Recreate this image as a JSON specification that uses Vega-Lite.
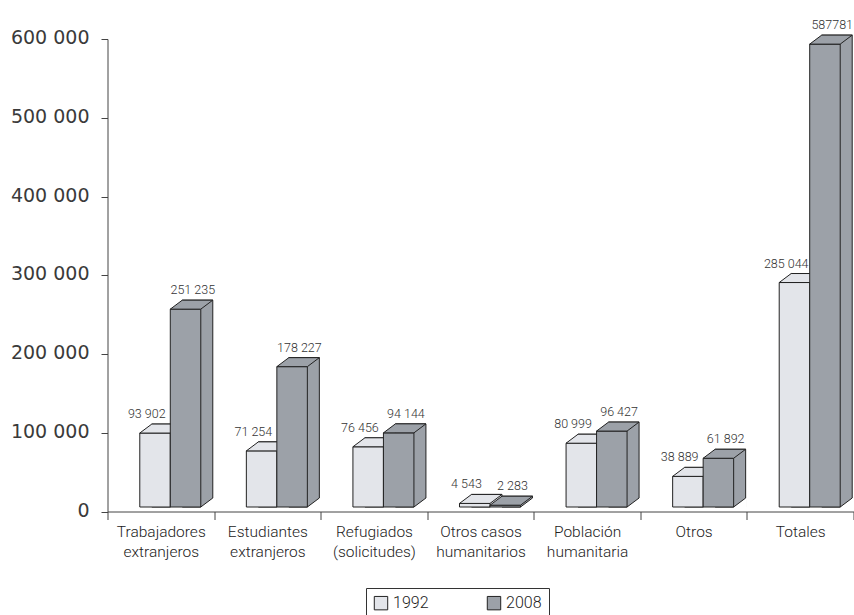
{
  "$schema": "https://vega.github.io/schema/vega-lite/v6.json",
  "width": 746,
  "height": 472.5,
  "autosize": "none",
  "padding": {"left": 107.5, "top": 39, "right": 0.5, "bottom": 103.5},
  "background": "white",
  "data": {
    "values": [
      {"cat": "Trabajadores|extranjeros", "year": "1992", "value": 93902, "label": "93 902"},
      {"cat": "Trabajadores|extranjeros", "year": "2008", "value": 251235, "label": "251 235"},
      {"cat": "Estudiantes|extranjeros", "year": "1992", "value": 71254, "label": "71 254"},
      {"cat": "Estudiantes|extranjeros", "year": "2008", "value": 178227, "label": "178 227"},
      {"cat": "Refugiados|(solicitudes)", "year": "1992", "value": 76456, "label": "76 456"},
      {"cat": "Refugiados|(solicitudes)", "year": "2008", "value": 94144, "label": "94 144"},
      {"cat": "Otros casos|humanitarios", "year": "1992", "value": 4543, "label": "4 543"},
      {"cat": "Otros casos|humanitarios", "year": "2008", "value": 2283, "label": "2 283"},
      {"cat": "Población|humanitaria", "year": "1992", "value": 80999, "label": "80 999"},
      {"cat": "Población|humanitaria", "year": "2008", "value": 96427, "label": "96 427"},
      {"cat": "Otros", "year": "1992", "value": 38889, "label": "38 889"},
      {"cat": "Otros", "year": "2008", "value": 61892, "label": "61 892"},
      {"cat": "Totales", "year": "1992", "value": 285044, "label": "285 044"},
      {"cat": "Totales", "year": "2008", "value": 587781, "label": "587781"}
    ]
  },
  "encoding": {
    "x": {
      "field": "cat", "type": "nominal", "sort": null, "title": null,
      "scale": {"paddingInner": 0, "paddingOuter": 0},
      "axis": {
        "labelExpr": "split(datum.label, '|')",
        "labelAngle": 0,
        "tickBand": "extent",
        "tickSize": 8,
        "tickColor": "#444",
        "domainColor": "#444",
        "labelFont": "Roboto",
        "labelFontWeight": 300,
        "labelFontSize": 15.5,
        "labelLineHeight": 20,
        "labelColor": "#222",
        "labelPadding": 5,
        "labelLimit": 0
      }
    },
    "y": {
      "field": "value", "type": "quantitative", "title": null,
      "scale": {"domain": [0, 600000], "nice": false},
      "axis": {
        "values": [0, 100000, 200000, 300000, 400000, 500000, 600000],
        "labelExpr": "replace(format(datum.value, ','), regexp(',', 'g'), ' ')",
        "grid": false,
        "tickSize": 6.5,
        "tickColor": "#444",
        "domainColor": "#444",
        "labelFont": "DejaVu Sans",
        "labelFontSize": 19,
        "labelColor": "#3a3a3a",
        "labelPadding": 12,
        "labelOffset": -1.5
      }
    },
    "color": {
      "field": "year", "type": "nominal",
      "scale": {"domain": ["1992", "2008"], "range": ["#e3e5ea", "#9ca1a8"]},
      "legend": {
        "orient": "none", "legendX": 258.5, "legendY": 549,
        "direction": "horizontal", "title": null,
        "strokeColor": "#333", "padding": 7,
        "symbolType": "square", "symbolSize": 180,
        "symbolStrokeColor": "#222", "symbolStrokeWidth": 1,
        "symbolOpacity": 1,
        "labelFont": "Roboto", "labelFontWeight": 300, "labelFontSize": 16, "labelColor": "#222",
        "labelOffset": 4, "columnPadding": 56
      }
    }
  },
  "layer": [
    {
      "transform": [{"filter": "datum.year == '1992'"}],
      "mark": {"type": "bar", "width": {"band": 0.2862}, "xOffset": 6.25, "yOffset": -13.5, "y2Offset": -4.5, "stroke": "#222", "strokeWidth": 1},
      "encoding": {"y2": {"datum": 0}}
    },
    {
      "transform": [{"filter": "datum.year == '1992'"}],
      "mark": {"type": "point", "shape": "M15.25,0L27.25,-9L28.5,-9L28.5,1.5L15.25,1.5Z", "size": 4, "filled": true, "strokeWidth": 0, "opacity": 1, "xOffset": -5.75, "yOffset": -4.5},
      "encoding": {"y": {"datum": 0, "type": "quantitative"}, "color": {"value": "white"}}
    },
    {
      "transform": [{"filter": "datum.year == '1992'"}],
      "mark": {"type": "bar", "width": {"band": 0.2862}, "xOffset": -5.75, "yOffset": -4.5, "y2Offset": -4.5, "stroke": "#222", "strokeWidth": 1},
      "encoding": {"y2": {"datum": 0}}
    },
    {
      "transform": [{"filter": "datum.year == '1992'"}],
      "mark": {"type": "point", "shape": "M-15.25,0L15.25,0L27.25,-9L-3.25,-9Z", "size": 4, "filled": true, "stroke": "#222", "strokeWidth": 1, "opacity": 1, "xOffset": -5.75, "yOffset": -4.5}
    },
    {
      "transform": [{"filter": "datum.year == '1992'"}],
      "mark": {"type": "point", "shape": "M15.25,0L27.25,-9", "size": 4, "filled": false, "strokeWidth": 1, "opacity": 1, "xOffset": -5.75, "yOffset": -4.5},
      "encoding": {"y": {"datum": 0, "type": "quantitative"}, "color": {"value": "#222"}}
    },
    {
      "transform": [{"filter": "datum.year == '2008'"}],
      "mark": {"type": "bar", "width": {"band": 0.2862}, "xOffset": 36.75, "yOffset": -13.5, "y2Offset": -4.5, "stroke": "#222", "strokeWidth": 1},
      "encoding": {"y2": {"datum": 0}}
    },
    {
      "transform": [{"filter": "datum.year == '2008'"}],
      "mark": {"type": "point", "shape": "M15.25,0L27.25,-9L28.5,-9L28.5,1.5L15.25,1.5Z", "size": 4, "filled": true, "strokeWidth": 0, "opacity": 1, "xOffset": 24.75, "yOffset": -4.5},
      "encoding": {"y": {"datum": 0, "type": "quantitative"}, "color": {"value": "white"}}
    },
    {
      "transform": [{"filter": "datum.year == '2008'"}],
      "mark": {"type": "bar", "width": {"band": 0.2862}, "xOffset": 24.75, "yOffset": -4.5, "y2Offset": -4.5, "stroke": "#222", "strokeWidth": 1},
      "encoding": {"y2": {"datum": 0}}
    },
    {
      "transform": [{"filter": "datum.year == '2008'"}],
      "mark": {"type": "point", "shape": "M-15.25,0L15.25,0L27.25,-9L-3.25,-9Z", "size": 4, "filled": true, "stroke": "#222", "strokeWidth": 1, "opacity": 1, "xOffset": 24.75, "yOffset": -4.5}
    },
    {
      "transform": [{"filter": "datum.year == '2008'"}],
      "mark": {"type": "point", "shape": "M15.25,0L27.25,-9", "size": 4, "filled": false, "strokeWidth": 1, "opacity": 1, "xOffset": 24.75, "yOffset": -4.5},
      "encoding": {"y": {"datum": 0, "type": "quantitative"}, "color": {"value": "#222"}}
    },
    {
      "transform": [{"filter": "datum.year == '1992'"}],
      "mark": {"type": "text", "font": "Roboto", "fontWeight": 300, "fontSize": 12.5, "baseline": "alphabetic", "align": "center", "xOffset": -14, "yOffset": -19.5},
      "encoding": {"text": {"field": "label"}, "color": {"value": "#333"}}
    },
    {
      "transform": [{"filter": "datum.year == '2008'"}],
      "mark": {"type": "text", "font": "Roboto", "fontWeight": 300, "fontSize": 12.5, "baseline": "alphabetic", "align": "center", "xOffset": 32, "yOffset": -19.5},
      "encoding": {"text": {"field": "label"}, "color": {"value": "#333"}}
    }
  ],
  "config": {
    "view": {"stroke": null},
    "axis": {"domainWidth": 1, "tickWidth": 1}
  }
}
